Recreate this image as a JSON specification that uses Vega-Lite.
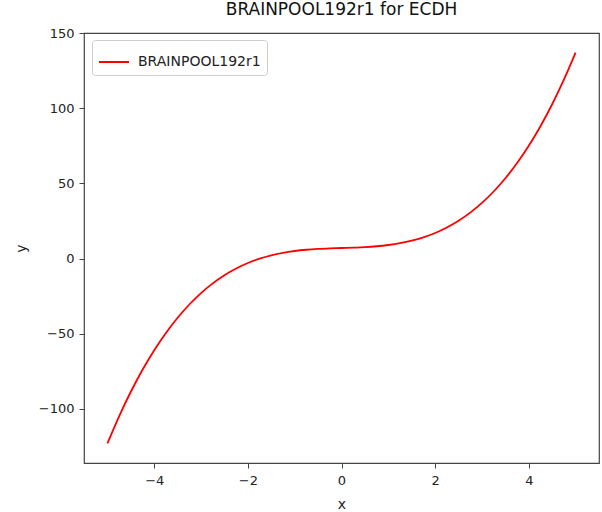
{
  "$schema": "https://vega.github.io/schema/vega-lite/v6.json",
  "autosize": {"type": "none"},
  "padding": {"left": 84, "top": 33, "right": 3, "bottom": 49},
  "width": 515,
  "height": 430,
  "background": "white",
  "title": {"text": "BRAINPOOL192r1 for ECDH", "font": "DejaVu Sans", "fontSize": 17, "fontWeight": "normal", "color": "#111", "offset": 8},
  "config": {
    "view": {"stroke": "#444", "strokeWidth": 1.2},
    "axis": {"grid": false, "domain": false, "tickColor": "#444", "tickSize": 5, "labelFont": "DejaVu Sans", "labelFontSize": 13, "labelColor": "#222", "titleFont": "DejaVu Sans", "titleFontSize": 14, "titleFontWeight": "normal", "titleColor": "#222"}
  },
  "data": {"values": [
    {"x": -5, "y": -123, "series": "BRAINPOOL192r1"},
    {"x": -4.75, "y": -104.921875, "series": "BRAINPOOL192r1"},
    {"x": -4.5, "y": -88.625, "series": "BRAINPOOL192r1"},
    {"x": -4.25, "y": -74.015625, "series": "BRAINPOOL192r1"},
    {"x": -4, "y": -61, "series": "BRAINPOOL192r1"},
    {"x": -3.75, "y": -49.484375, "series": "BRAINPOOL192r1"},
    {"x": -3.5, "y": -39.375, "series": "BRAINPOOL192r1"},
    {"x": -3.25, "y": -30.578125, "series": "BRAINPOOL192r1"},
    {"x": -3, "y": -23, "series": "BRAINPOOL192r1"},
    {"x": -2.75, "y": -16.546875, "series": "BRAINPOOL192r1"},
    {"x": -2.5, "y": -11.125, "series": "BRAINPOOL192r1"},
    {"x": -2.25, "y": -6.640625, "series": "BRAINPOOL192r1"},
    {"x": -2, "y": -3, "series": "BRAINPOOL192r1"},
    {"x": -1.75, "y": -0.109375, "series": "BRAINPOOL192r1"},
    {"x": -1.5, "y": 2.125, "series": "BRAINPOOL192r1"},
    {"x": -1.25, "y": 3.796875, "series": "BRAINPOOL192r1"},
    {"x": -1, "y": 5, "series": "BRAINPOOL192r1"},
    {"x": -0.75, "y": 5.828125, "series": "BRAINPOOL192r1"},
    {"x": -0.5, "y": 6.375, "series": "BRAINPOOL192r1"},
    {"x": -0.25, "y": 6.734375, "series": "BRAINPOOL192r1"},
    {"x": 0, "y": 7, "series": "BRAINPOOL192r1"},
    {"x": 0.25, "y": 7.265625, "series": "BRAINPOOL192r1"},
    {"x": 0.5, "y": 7.625, "series": "BRAINPOOL192r1"},
    {"x": 0.75, "y": 8.171875, "series": "BRAINPOOL192r1"},
    {"x": 1, "y": 9, "series": "BRAINPOOL192r1"},
    {"x": 1.25, "y": 10.203125, "series": "BRAINPOOL192r1"},
    {"x": 1.5, "y": 11.875, "series": "BRAINPOOL192r1"},
    {"x": 1.75, "y": 14.109375, "series": "BRAINPOOL192r1"},
    {"x": 2, "y": 17, "series": "BRAINPOOL192r1"},
    {"x": 2.25, "y": 20.640625, "series": "BRAINPOOL192r1"},
    {"x": 2.5, "y": 25.125, "series": "BRAINPOOL192r1"},
    {"x": 2.75, "y": 30.546875, "series": "BRAINPOOL192r1"},
    {"x": 3, "y": 37, "series": "BRAINPOOL192r1"},
    {"x": 3.25, "y": 44.578125, "series": "BRAINPOOL192r1"},
    {"x": 3.5, "y": 53.375, "series": "BRAINPOOL192r1"},
    {"x": 3.75, "y": 63.484375, "series": "BRAINPOOL192r1"},
    {"x": 4, "y": 75, "series": "BRAINPOOL192r1"},
    {"x": 4.25, "y": 88.015625, "series": "BRAINPOOL192r1"},
    {"x": 4.5, "y": 102.625, "series": "BRAINPOOL192r1"},
    {"x": 4.75, "y": 118.921875, "series": "BRAINPOOL192r1"},
    {"x": 5, "y": 137, "series": "BRAINPOOL192r1"}
  ]},
  "mark": {"type": "line", "strokeWidth": 1.8, "interpolate": "monotone"},
  "encoding": {
    "x": {"field": "x", "type": "quantitative", "scale": {"domain": [-5.5, 5.5], "nice": false, "zero": false},
      "axis": {"values": [-4, -2, 0, 2, 4], "title": "x", "labelPadding": 6, "titlePadding": 10, "labelExpr": "replace(datum.label, '-', '−')"}},
    "y": {"field": "y", "type": "quantitative", "scale": {"domain": [-136, 150], "nice": false, "zero": false},
      "axis": {"values": [-100, -50, 0, 50, 100, 150], "title": "y", "labelPadding": 5, "titlePadding": 10, "labelExpr": "replace(datum.label, '-', '−')"}},
    "color": {"field": "series", "type": "nominal", "scale": {"domain": ["BRAINPOOL192r1"], "range": ["red"]},
      "legend": {"title": null, "orient": "none", "legendX": 8, "legendY": 7, "symbolType": "stroke", "symbolSize": 900, "symbolStrokeWidth": 2, "labelFont": "DejaVu Sans", "labelFontSize": 14, "labelColor": "#222", "fillColor": "white", "strokeColor": "#ccc", "cornerRadius": 3, "padding": 6, "labelOffset": 8}}
  }
}
